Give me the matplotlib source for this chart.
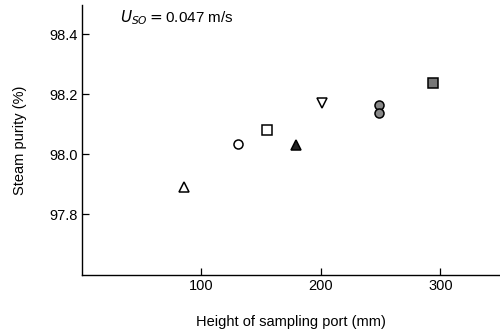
import matplotlib
matplotlib.use("Agg")
import matplotlib.pyplot as plt

# Data
heights = [85, 131, 155, 179, 201, 249, 249, 294]
purity = [97.89, 98.033, 98.08, 98.03, 98.17, 98.163, 98.137, 98.237]
markers = ["^", "o", "s", "^", "v", "o", "o", "s"]
faces = ["white", "white", "white", "#222222", "white", "#888888", "#888888", "#777777"]

xticks = [100, 200, 300]
yticks = [97.8, 98.0, 98.2, 98.4]
ytick_labels = ["97.8", "98.0", "98.2", "98.4"]

plt.rcParams['font.family'] = ['Liberation Sans', 'DejaVu Sans']

fig = plt.figure(figsize=(5, 3.35), dpi=100)
ax = fig.add_axes([0.164, 0.179, 0.836, 0.806])

for x, y, m, fc in zip(heights, purity, markers, faces):
    ax.plot([x], [y], linestyle="none", marker=m, markersize=6.5,
            markerfacecolor=fc, markeredgecolor="black", markeredgewidth=1.1)

ax.set_xlim(0, 350)
ax.set_ylim(97.597, 98.497)
ax.set_xticks(xticks)
ax.set_yticks(yticks)
ax.set_yticklabels(ytick_labels)
ax.tick_params(direction="in", length=5, width=0.9, labelsize=10.5, pad=3, colors="black")
for side in ["top", "right"]:
    ax.spines[side].set_visible(False)
for side in ["left", "bottom"]:
    ax.spines[side].set_linewidth(1.0)

ax.set_xlabel("Height of sampling port (mm)", fontsize=10.5, labelpad=16)
ax.set_ylabel("Steam purity (%)", fontsize=10.5, labelpad=16)

ax.text(0.09, 0.955, r"$U_{SO}$$=$0.047 m/s", transform=ax.transAxes,
        fontsize=11, ha="left", va="center")

fig.savefig("out.png", dpi=100)
